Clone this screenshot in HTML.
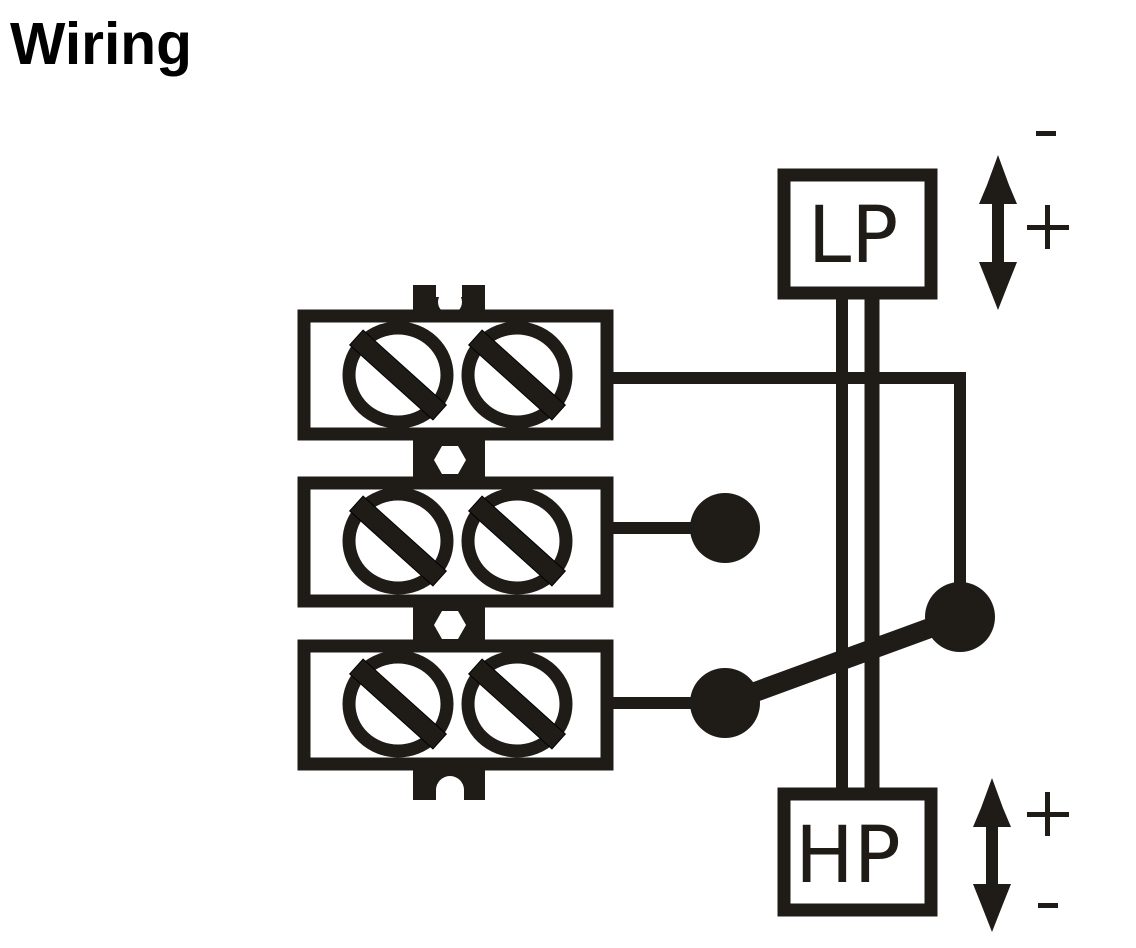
<!DOCTYPE html>
<html><head><style>
body{margin:0;background:#fff;}
svg{display:block}
</style></head><body>
<svg width="1136" height="948" xmlns="http://www.w3.org/2000/svg">
<rect width="1136" height="948" fill="#fff"/>
<text x="10" y="64" font-family="Liberation Sans, sans-serif" font-weight="bold" font-size="59" fill="#000" textLength="182" lengthAdjust="spacingAndGlyphs">Wiring</text>
<rect x="413" y="285" width="72" height="515" fill="#1f1c18"/>
<g fill="#fff" stroke="none">
<rect x="436" y="285" width="26" height="12"/>
<circle cx="450" cy="302" r="12"/>
<polygon points="442,446 458,446 466,460 458,474 442,474 434,460"/>
<polygon points="442,611 458,611 466,625 458,639 442,639 434,625"/>
<circle cx="450" cy="790" r="14"/>
<rect x="436" y="790" width="28" height="20"/>
</g>
<g fill="#fff" stroke="#1f1c18" stroke-width="13">
<rect x="304" y="316" width="303" height="118"/>
<rect x="304" y="483" width="303" height="118"/>
<rect x="304" y="646" width="303" height="118"/>
</g>
<g fill="#fff" stroke="#1f1c18" stroke-width="13">
<ellipse cx="398" cy="375" rx="49" ry="47"/>
<ellipse cx="517" cy="375" rx="49" ry="47"/>
<ellipse cx="398" cy="541" rx="49" ry="47"/>
<ellipse cx="517" cy="541" rx="49" ry="47"/>
<ellipse cx="398" cy="704" rx="49" ry="47"/>
<ellipse cx="517" cy="704" rx="49" ry="47"/>
</g>
<g fill="#1f1c18" stroke="#000" stroke-width="1">
<rect x="-56" y="-10" width="112" height="20" transform="translate(398,375) rotate(42)"/>
<rect x="-56" y="-10" width="112" height="20" transform="translate(517,375) rotate(42)"/>
<rect x="-56" y="-10" width="112" height="20" transform="translate(398,541) rotate(42)"/>
<rect x="-56" y="-10" width="112" height="20" transform="translate(517,541) rotate(42)"/>
<rect x="-56" y="-10" width="112" height="20" transform="translate(398,704) rotate(42)"/>
<rect x="-56" y="-10" width="112" height="20" transform="translate(517,704) rotate(42)"/>
</g>
<g stroke="#1f1c18" fill="none">
<line x1="613" y1="378" x2="966" y2="378" stroke-width="12"/>
<line x1="960" y1="372" x2="960" y2="615" stroke-width="12"/>
<line x1="613" y1="528" x2="725" y2="528" stroke-width="12"/>
<line x1="613" y1="703" x2="725" y2="703" stroke-width="12"/>
<line x1="725" y1="703" x2="960" y2="617" stroke-width="20"/>
<line x1="842" y1="297" x2="842" y2="790" stroke-width="12"/>
<line x1="872" y1="297" x2="872" y2="790" stroke-width="15"/>
</g>
<g fill="#1f1c18">
<circle cx="725" cy="528" r="35"/>
<circle cx="725" cy="703" r="35"/>
<circle cx="960" cy="617" r="35"/>
</g>
<g fill="#fff" stroke="#1f1c18" stroke-width="13">
<rect x="784" y="175" width="147" height="118"/>
<rect x="784" y="794" width="147" height="116"/>
</g>
<g font-family="DejaVu Sans, sans-serif" font-size="78" fill="#1f1c18" text-anchor="middle">
<text x="853" y="262">LP</text>
<text x="848" y="882">HP</text>
</g>
<g fill="#1f1c18">
<polygon points="998,155 1009,185 1017,204 979,204 987,185"/>
<rect x="992" y="200" width="12" height="70"/>
<polygon points="979,262 1017,262 1009,282 998,310 987,282"/>
<polygon points="992,778 1003,808 1011,827 973,827 981,808"/>
<rect x="986" y="822" width="12" height="70"/>
<polygon points="973,884 1011,884 1003,904 992,932 981,904"/>
<rect x="1036" y="131" width="20" height="5"/>
<rect x="1027" y="225" width="42" height="5"/>
<rect x="1045" y="205" width="5" height="44"/>
<rect x="1027" y="812" width="42" height="5"/>
<rect x="1045" y="792" width="5" height="44"/>
<rect x="1038" y="903" width="20" height="5"/>
</g>
</svg>
</body></html>
